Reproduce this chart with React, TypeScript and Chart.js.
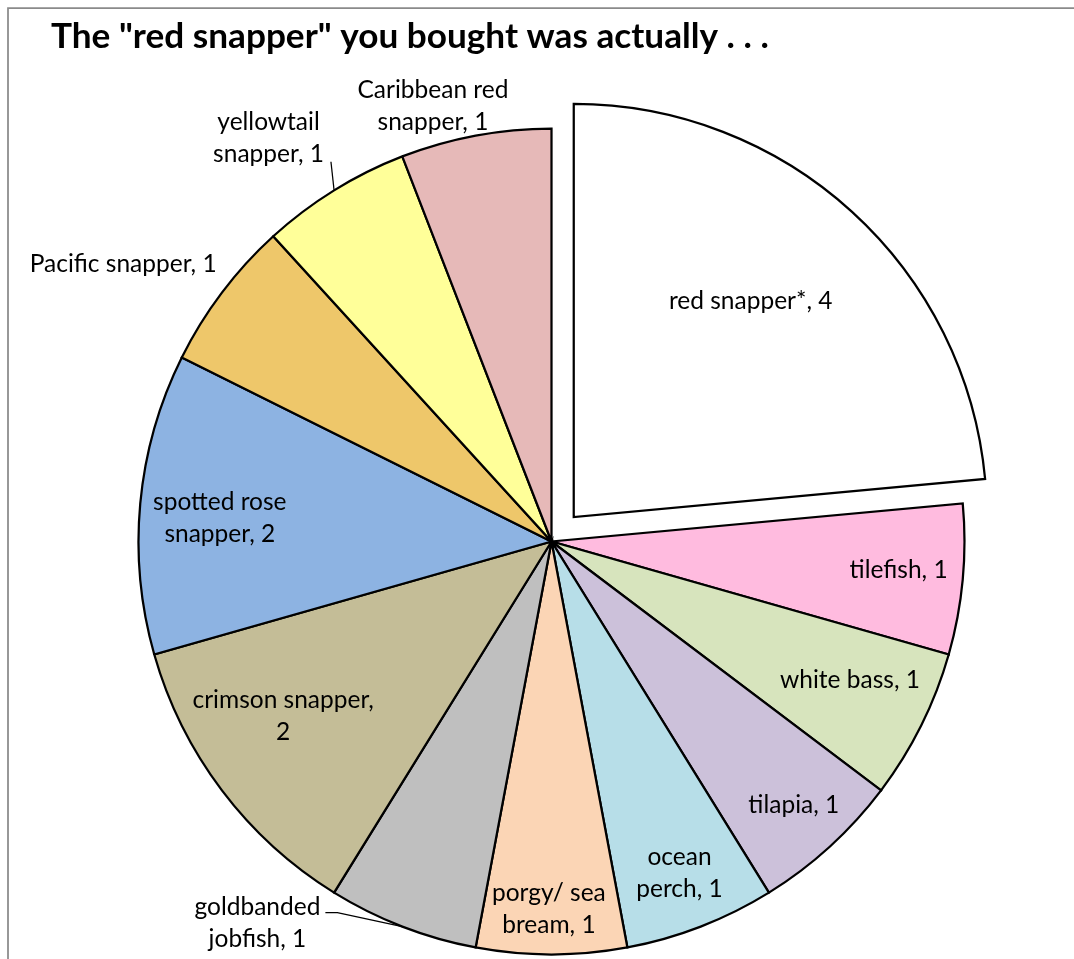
import React, { useEffect, useRef } from "react";
import { Chart, registerables } from "chart.js";

Chart.register(...registerables);

// ---- data ----
const TITLE = 'The "red snapper" you bought was actually . . .';
const categories = [
  "red snapper*",
  "tilefish",
  "white bass",
  "tilapia",
  "ocean perch",
  "porgy/ sea bream",
  "goldbanded jobfish",
  "crimson snapper",
  "spotted rose snapper",
  "Pacific snapper",
  "yellowtail snapper",
  "Caribbean red snapper",
];
const counts = [4, 1, 1, 1, 1, 1, 1, 2, 2, 1, 1, 1];
// number of words on the first line of each label (0 = one line)
const firstLineWords = [0, 0, 0, 0, 1, 2, 1, 2, 2, 0, 1, 2];

// ---- styles ----
const sliceColors = [
  "#FFFFFF",
  "#FFBBDF",
  "#D7E4BD",
  "#CCC1DA",
  "#B7DEE8",
  "#FBD5B5",
  "#BFBFBF",
  "#C4BD97",
  "#8DB3E2",
  "#EEC76A",
  "#FFFF99",
  "#E6B9B8",
];
// explosion distance in px (Chart.js arc offset moves the slice by offset/4)
const explode = [33, 0, 0, 0, 0, 0, 0, 0, 0, 0, 0, 0];
const labelAngleShift = [-1.95, 0.7, -0.35, 0.6, 0.5, 0.4, 15.9, 2.8, -2.6, -4.9, -3.8, -4.9];
const labelRadiusFrac = [0.661, 0.845, 0.805, 0.881, 0.878, 0.91, 1.181, 0.786, 0.804, 1.225, 1.178, 1.075];
const leaderKind = ["", "", "", "", "", "", "elbow", "", "", "", "drop", ""];

const FONT = "Lato, 'DejaVu Sans', sans-serif";
const TITLE_WIDTH = 718;
const LABEL_FIT_TEXT = "Pacific snapper, 1";
const LABEL_FIT_WIDTH = 187;
const LINE_H = 32;
const W = 1074;
const H = 959;

function labelLines(i: number): string[] {
  const words = `${categories[i]}, ${counts[i]}`.split(" ");
  const n = firstLineWords[i];
  if (!n) return [words.join(" ")];
  return [words.slice(0, n).join(" "), words.slice(n).join(" ")];
}

const decorPlugin = {
  id: "decor",
  afterDraw(chart: any) {
    const ctx: CanvasRenderingContext2D = chart.ctx;
    ctx.save();
    // frame
    ctx.strokeStyle = "#8a8a8a";
    ctx.lineWidth = 1.75;
    ctx.beginPath();
    ctx.moveTo(8, chart.height + 4);
    ctx.lineTo(8, 8);
    ctx.lineTo(chart.width + 4, 8);
    ctx.stroke();

    // title
    ctx.fillStyle = "#000";
    ctx.textAlign = "left";
    ctx.textBaseline = "alphabetic";
    ctx.font = `bold 100px ${FONT}`;
    const ts = (100 * TITLE_WIDTH) / ctx.measureText(TITLE).width;
    ctx.font = `bold ${ts.toFixed(2)}px ${FONT}`;
    ctx.fillText(TITLE, 51, 48);

    // labels
    ctx.font = `100px ${FONT}`;
    const ls = (100 * LABEL_FIT_WIDTH) / ctx.measureText(LABEL_FIT_TEXT).width;
    ctx.font = `${ls.toFixed(2)}px ${FONT}`;
    ctx.textAlign = "center";
    const meta = chart.getDatasetMeta(0);
    meta.data.forEach((arc: any, i: number) => {
      const p = arc.getProps(["x", "y", "startAngle", "endAngle", "outerRadius"], true);
      const mid = (p.startAngle + p.endAngle) / 2;
      const cx = p.x + Math.cos(mid) * explode[i];
      const cy = p.y + Math.sin(mid) * explode[i];
      const a = mid + (labelAngleShift[i] * Math.PI) / 180;
      const r = p.outerRadius * labelRadiusFrac[i];
      const ax = cx + Math.cos(a) * r;
      const ay = cy + Math.sin(a) * r;
      const lines = labelLines(i);
      const n = lines.length;
      const baselines = lines.map((_, k) => ay + (k - (n - 1) / 2) * LINE_H);
      ctx.fillStyle = "#000";
      lines.forEach((t, k) => ctx.fillText(t, ax, baselines[k]));

      const ex = cx + Math.cos(mid) * p.outerRadius;
      const ey = cy + Math.sin(mid) * p.outerRadius;
      if (leaderKind[i] === "elbow") {
        const right = ax + ctx.measureText(lines[0]).width / 2;
        const yy = baselines[0] - 2;
        ctx.strokeStyle = "#000";
        ctx.lineWidth = 1.25;
        ctx.beginPath();
        ctx.moveTo(right + 5, yy);
        ctx.lineTo(right + 17, yy);
        ctx.lineTo(ex, ey);
        ctx.stroke();
      } else if (leaderKind[i] === "drop") {
        const right = ax + ctx.measureText(lines[n - 1]).width / 2;
        ctx.strokeStyle = "#000";
        ctx.lineWidth = 1.25;
        ctx.beginPath();
        ctx.moveTo(right + 7, baselines[n - 1]);
        ctx.lineTo(ex, ey);
        ctx.stroke();
      }
    });
    ctx.restore();
  },
};

export default function App() {
  const ref = useRef<HTMLCanvasElement | null>(null);
  useEffect(() => {
    if (!ref.current) return;
    const chart = new Chart(ref.current, {
      type: "pie",
      data: {
        labels: categories,
        datasets: [
          {
            data: counts,
            backgroundColor: sliceColors,
            borderColor: "#000000",
            borderWidth: 2.25,
            borderJoinStyle: "miter",
            offset: explode.map((d) => d * 4),
            radius: 413,
            clip: false,
          } as any,
        ],
      },
      options: {
        responsive: false,
        animation: false,
        devicePixelRatio: 1,
        radius: 413,
        layout: { padding: { left: 29, top: 124, right: 0, bottom: 0 } },
        plugins: {
          legend: { display: false },
          title: { display: false },
          tooltip: { enabled: false },
        },
      } as any,
      plugins: [decorPlugin],
    });
    return () => chart.destroy();
  }, []);
  return (
    <div style={{ position: "absolute", left: 0, top: 0, width: W, height: H, background: "#fff" }}>
      <canvas ref={ref} width={W} height={H} style={{ display: "block" }} />
    </div>
  );
}
